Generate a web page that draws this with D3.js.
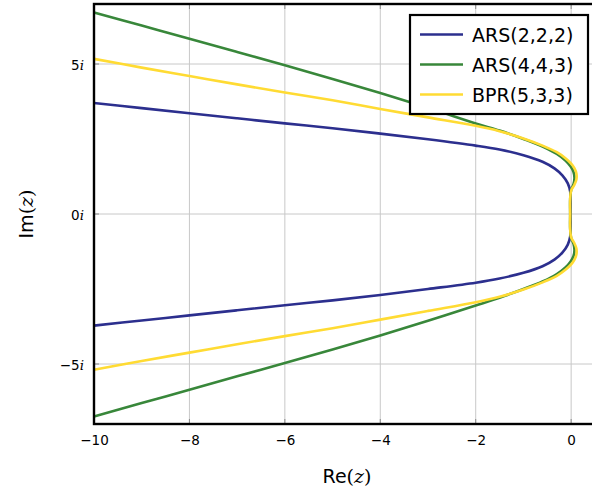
<!DOCTYPE html>
<html>
<head>
<meta charset="utf-8">
<script src="https://cdn.jsdelivr.net/npm/d3@7"></script>
<style>
  html, body { margin: 0; padding: 0; background: #fff; }
  svg { display: block; }
  text { font-family: "DejaVu Sans", sans-serif; fill: #000; }
</style>
</head>
<body>
<svg id="chart" width="592" height="491"></svg>
<script>
// Boundary curves in the complex plane, traced from the upper-left end,
// round the tip near the imaginary axis, back to the lower-left end.
const seriesNames = ["ARS(2,2,2)", "ARS(4,4,3)", "BPR(5,3,3)"];
const seriesColors = ["#2c2f8e", "#38873a", "#ffdb33"];

const ars222 = [
  [-10, 3.70], [-9, 3.53], [-8, 3.36], [-7, 3.19], [-6, 3.02], [-5, 2.86],
  [-4, 2.68], [-3, 2.49], [-2, 2.28], [-1.5, 2.15], [-1, 1.96], [-0.6, 1.74],
  [-0.35, 1.52], [-0.18, 1.28], [-0.07, 1.02], [-0.02, 0.75], [-0.01, 0.4],
  [-0.01, 0],
  [-0.01, -0.4], [-0.02, -0.75], [-0.07, -1.02], [-0.18, -1.28], [-0.35, -1.52],
  [-0.6, -1.74], [-1, -1.96], [-1.5, -2.15], [-2, -2.29], [-3, -2.50],
  [-4, -2.70], [-5, -2.88], [-6, -3.04], [-7, -3.21], [-8, -3.38],
  [-9, -3.55], [-10, -3.72]
];

const ars443 = [
  [-10, 6.72], [-9, 6.28], [-8, 5.84], [-7, 5.40], [-6, 4.96], [-5, 4.50],
  [-4, 4.03], [-3, 3.54], [-2, 3.02], [-1.5, 2.78], [-1, 2.50], [-0.6, 2.25],
  [-0.3, 2.00], [-0.12, 1.78], [-0.01, 1.58], [0.05, 1.40], [0.07, 1.20],
  [0.05, 1.00], [0.0, 0.80], [-0.02, 0.5], [-0.02, 0],
  [-0.02, -0.5], [0.0, -0.80], [0.05, -1.00], [0.07, -1.20], [0.05, -1.40],
  [-0.01, -1.58], [-0.12, -1.78], [-0.3, -2.00], [-0.6, -2.25], [-1, -2.50],
  [-1.5, -2.79], [-2, -3.05], [-3, -3.56], [-4, -4.05], [-5, -4.52],
  [-6, -4.97], [-7, -5.41], [-8, -5.86], [-9, -6.30], [-10, -6.75]
];

const bpr533 = [
  [-10, 5.17], [-9, 4.88], [-8, 4.60], [-7, 4.32], [-6, 4.05], [-5, 3.79],
  [-4, 3.50], [-3, 3.22], [-2, 2.94], [-1.5, 2.76], [-1, 2.52], [-0.6, 2.28],
  [-0.3, 2.06], [-0.12, 1.86], [0.0, 1.68], [0.07, 1.52], [0.11, 1.35],
  [0.11, 1.15], [0.06, 0.95], [0.0, 0.78], [-0.02, 0.5], [-0.02, 0],
  [-0.02, -0.5], [0.0, -0.78], [0.06, -0.95], [0.11, -1.15], [0.11, -1.35],
  [0.07, -1.52], [0.0, -1.68], [-0.12, -1.86], [-0.3, -2.06], [-0.6, -2.28],
  [-1, -2.52], [-1.5, -2.76], [-2, -2.94], [-3, -3.23], [-4, -3.52],
  [-5, -3.81], [-6, -4.07], [-7, -4.34], [-8, -4.62], [-9, -4.90], [-10, -5.19]
];

const xTicks = [-10, -8, -6, -4, -2, 0];
const yTicks = [-5, 0, 5];

const svg = d3.select("#chart");
const plotLeft = 94, plotRight = 595, plotTop = 4, plotBottom = 424;

const x = d3.scaleLinear().domain([-10, 0.5]).range([plotLeft, plotRight]);
const y = d3.scaleLinear().domain([-7, 7]).range([plotBottom, plotTop]);

// Grid
const grid = svg.append("g");
grid.selectAll("line.gx").data(xTicks).join("line")
  .attr("class", "gx")
  .attr("x1", d => x(d)).attr("x2", d => x(d))
  .attr("y1", plotTop).attr("y2", plotBottom)
  .attr("stroke", "#c8c8c8").attr("stroke-width", 1);
grid.selectAll("line.gy").data(yTicks).join("line")
  .attr("class", "gy")
  .attr("x1", plotLeft).attr("x2", plotRight)
  .attr("y1", d => y(d)).attr("y2", d => y(d))
  .attr("stroke", "#c8c8c8").attr("stroke-width", 1);

// Tick marks on the inside of the frame
const ticks = svg.append("g").attr("stroke", "#8c8c8c").attr("stroke-width", 1);
xTicks.forEach(t => {
  ticks.append("line").attr("x1", x(t)).attr("x2", x(t)).attr("y1", plotBottom).attr("y2", plotBottom - 5);
  ticks.append("line").attr("x1", x(t)).attr("x2", x(t)).attr("y1", plotTop).attr("y2", plotTop + 5);
});
yTicks.forEach(t => {
  ticks.append("line").attr("x1", plotLeft).attr("x2", plotLeft + 5).attr("y1", y(t)).attr("y2", y(t));
});

// Curves
const line = d3.line().x(d => x(d[0])).y(d => y(d[1])).curve(d3.curveCatmullRom.alpha(0.5));
const curves = [ars222, ars443, bpr533];
svg.append("g").selectAll("path").data(curves).join("path")
  .attr("d", d => line(d))
  .attr("fill", "none")
  .attr("stroke", (d, i) => seriesColors[i])
  .attr("stroke-width", 2.6)
  .attr("stroke-linejoin", "round");

// Frame
svg.append("rect")
  .attr("x", plotLeft).attr("y", plotTop)
  .attr("width", plotRight - plotLeft).attr("height", plotBottom - plotTop)
  .attr("fill", "none").attr("stroke", "#000").attr("stroke-width", 2.4);

// Axis tick labels
const fmtNum = v => (v < 0 ? "\u2212" : "") + Math.abs(v);
const xAxis = d3.axisBottom(x).tickValues(xTicks).tickSize(0).tickPadding(0).tickFormat(fmtNum);
const xg = svg.append("g").attr("transform", `translate(0,${plotBottom})`).call(xAxis);
xg.select(".domain").remove();
xg.selectAll("text")
  .attr("y", 21).attr("dy", null)
  .style("font-family", "'DejaVu Sans', sans-serif")
  .style("font-size", "13.5px").attr("fill", "#000");

const yAxis = d3.axisLeft(y).tickValues(yTicks).tickSize(0).tickPadding(0).tickFormat(() => "");
const yg = svg.append("g").attr("transform", `translate(${plotLeft},0)`).call(yAxis);
yg.select(".domain").remove();
yg.selectAll(".tick text").each(function(d) {
  const t = d3.select(this)
    .attr("x", -10).attr("dy", null).attr("y", 5)
    .style("font-family", "'DejaVu Sans', sans-serif")
    .style("font-size", "13.5px").attr("fill", "#000");
  t.append("tspan").text(fmtNum(d));
  t.append("tspan")
    .style("font-family", "'DejaVu Serif', serif")
    .style("font-style", "italic")
    .text("i");
});

// Axis titles
const xt = svg.append("text")
  .attr("x", (plotLeft + plotRight) / 2 + 2.5).attr("y", 483)
  .attr("text-anchor", "middle").style("font-size", "19px");
xt.append("tspan").text("Re");
xt.append("tspan").style("font-family", "'DejaVu Serif', serif").text("(");
xt.append("tspan").style("font-family", "'DejaVu Serif', serif").style("font-style", "italic").text("z");
xt.append("tspan").style("font-family", "'DejaVu Serif', serif").text(")");

const yt = svg.append("text")
  .attr("transform", `translate(33,${y(0)}) rotate(-90)`)
  .attr("text-anchor", "middle").style("font-size", "19px");
yt.append("tspan").text("Im");
yt.append("tspan").style("font-family", "'DejaVu Serif', serif").text("(");
yt.append("tspan").style("font-family", "'DejaVu Serif', serif").style("font-style", "italic").text("z");
yt.append("tspan").style("font-family", "'DejaVu Serif', serif").text(")");

// Legend
const legend = svg.append("g").attr("transform", "translate(410,15)");
legend.append("rect")
  .attr("width", 178).attr("height", 99)
  .attr("fill", "#fff").attr("stroke", "#000").attr("stroke-width", 2.2);
const entries = legend.selectAll("g.entry").data(seriesNames).join("g")
  .attr("class", "entry")
  .attr("transform", (d, i) => `translate(0,${19.5 + i * 30})`);
entries.append("line")
  .attr("x1", 10).attr("x2", 53).attr("y1", 0).attr("y2", 0)
  .attr("stroke", (d, i) => seriesColors[i]).attr("stroke-width", 2.6);
entries.append("text")
  .attr("x", 62).attr("y", 7)
  .style("font-size", "19px")
  .text(d => d);
</script>
</body>
</html>
